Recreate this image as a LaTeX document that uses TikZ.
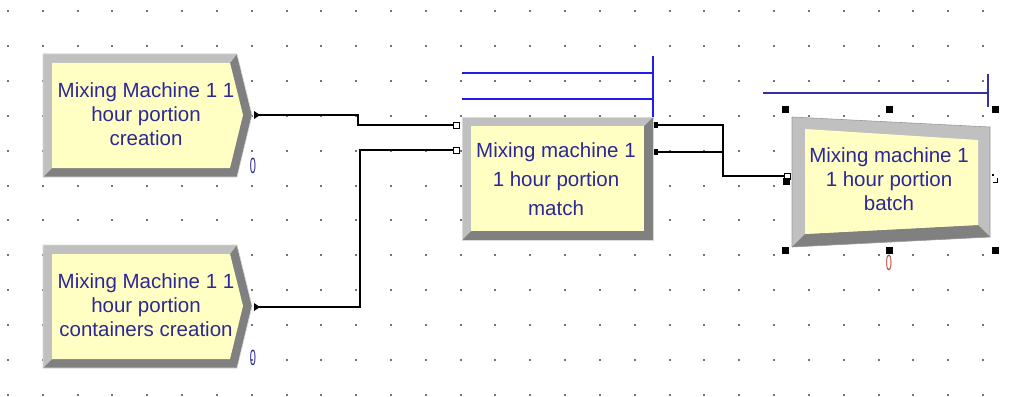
\documentclass[tikz,border=0pt]{standalone}
\usepackage{fontspec}
\setmainfont{Liberation Sans}
\usetikzlibrary{positioning}
\definecolor{modfill}{RGB}{255,255,196}
\definecolor{bevlight}{RGB}{192,192,192}
\definecolor{bevdark}{RGB}{128,128,128}
\definecolor{modtext}{RGB}{44,40,150}
\definecolor{qblue}{RGB}{30,30,235}
\definecolor{qnavy}{RGB}{50,50,165}
\definecolor{cntred}{RGB}{190,70,60}

\begin{document}
\begin{tikzpicture}[x=1pt, y=-1pt,
  modlabel/.style={text=modtext, align=center, inner sep=0pt, font=\fontsize{20.5}{24}\selectfont},
  cnt/.style={inner sep=0pt, xscale=0.5, font=\fontsize{22}{22}\selectfont},
  conn/.style={black, line width=1.7pt},
  inport/.style={draw=black, fill=white, line width=1pt, minimum size=6pt, inner sep=0pt},
  outport/.style={fill=black, minimum width=4pt, minimum height=6pt, inner sep=0pt},
  handle/.style={fill=black, minimum size=7pt, inner sep=0pt},
  queue/.style={line width=1.5pt}]
\fill[white] (0,0) rectangle (1011,396);
\useasboundingbox (0,0) rectangle (1011,396);
% grid
\foreach \i in {0,...,28}
  \foreach \j in {0,...,11}
    \fill[gray!90!black] ({8+34.82*\i-1},{11+34.9*\j-1}) rectangle +(2,2);

% create modules
\foreach \dy in {0,191} {
  \begin{scope}[shift={(0,\dy)}]
    \fill[bevdark] (43,54) -- (237,54) -- (252,115) -- (237,177) -- (43,177) -- cycle;
    \fill[bevlight] (43,54) -- (237,54) -- (230,63) -- (52,63) -- (52,168) -- (43,177) -- cycle;
    \fill[modfill] (52,63) -- (230,63) -- (243,115) -- (230,168) -- (52,168) -- cycle;
    \draw[bevlight!60!white, line width=0.6pt] (43,54) -- (237,54) -- (252,115) -- (237,177) -- (43,177) -- cycle;
  \end{scope}
}
\node[modlabel] (create1) at (146,114) {Mixing Machine 1 1\\hour portion\\creation};
\node[modlabel] (create2) at (146,305) {Mixing Machine 1 1\\hour portion\\containers creation};
\node[cnt, text=modtext] (cnt1) at (253,166) {0};
\node[cnt, text=modtext] (cnt2) at (253,358) {0};

% match module
\fill[bevdark] (462,117) rectangle (653,240);
\fill[bevlight] (462,117) -- (653,117) -- (644,126) -- (471,126) -- (471,231) -- (462,240) -- cycle;
\fill[modfill] (471,126) rectangle (644,231);
\draw[bevlight!60!white, line width=0.6pt] (462,117) rectangle (653,240);
\node[modlabel, font=\fontsize{20.5}{29}\selectfont] (match) at (556,179) {Mixing machine 1\\1 hour portion\\match};
\draw[qblue, queue] (462,73) -- (653,73);
\draw[qblue, queue] (462,99) -- (653,99);
\draw[qblue, queue] (653,56) -- (653,117);

% batch module
\fill[bevlight] (792,117) -- (990,127) -- (990,237) -- (792,247) -- cycle;
\fill[bevdark] (792,247) -- (805,234) -- (978,225) -- (990,237) -- cycle;
\fill[modfill] (805,129) -- (978,140) -- (978,225) -- (805,234) -- cycle;
\draw[bevdark!80!white, line width=0.6pt] (792,117) -- (990,127) -- (990,237) -- (792,247) -- cycle;
\node[modlabel] (batch) at (889,179) {Mixing machine 1\\1 hour portion\\batch};
\draw[qnavy, queue] (763,93) -- (988,93);
\draw[qnavy, queue] (988,74) -- (988,107);
\node[cnt, text=cntred] (cnt3) at (889,263) {0};

% ports
\coordinate (c1out) at (257,115);
\coordinate (c2out) at (257,307);
\fill (c1out) ++(-3,-4) -- ++(6,4) -- ++(-6,4) -- cycle;
\fill (c2out) ++(-3,-4) -- ++(6,4) -- ++(-6,4) -- cycle;
\node[inport] (min1) at (456,125) {};
\node[inport] (min2) at (456,150) {};
\node[outport] (mout1) at (656,125) {};
\node[outport] (mout2) at (656,152) {};
\node[inport] (bin) at (787,176) {};
\coordinate (j1) at (358,115);
\coordinate (j2) at (360,150);
\coordinate (j3) at (723,176);

% connections
\draw[conn] (c1out) -- (j1) |- (min1.west);
\draw[conn] (c2out) -| (j2) -- (min2.west);
\draw[conn] (mout1.east) -| (j3) -- (bin.west);
\draw[conn] (mout2.east) -- (mout2.east -| j3);

% selection handles
\foreach \p/\n in {(785,109)/h1, (889,109)/h2, (995,109)/h3, (786,181)/h4, (785,250)/h5, (889,250)/h6, (995,250)/h7}
  \node[handle] (\n) at \p {};
\fill (992,174) rectangle +(2,2);
\draw[line width=1pt] (993,182) -- (997,182) -- (997,178);
\end{tikzpicture}
\end{document}
